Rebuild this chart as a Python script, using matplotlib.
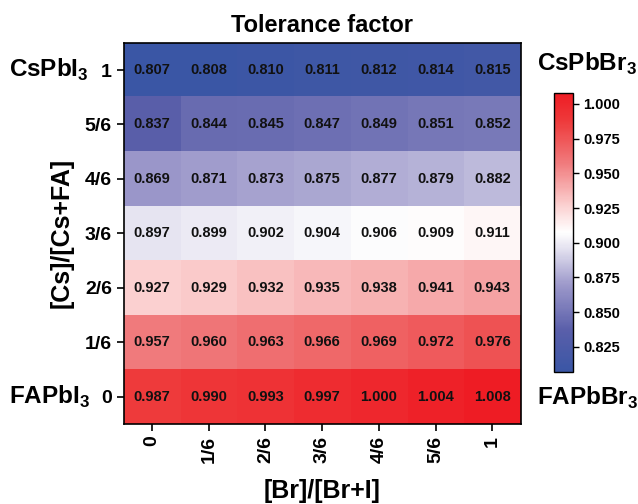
import matplotlib
matplotlib.use("Agg")
import matplotlib.pyplot as plt
import numpy as np
from matplotlib.colors import LinearSegmentedColormap

plt.rcParams['font.family'] = ['Liberation Sans', 'DejaVu Sans']
plt.rcParams['font.weight'] = 'bold'
plt.rcParams['mathtext.fontset'] = 'custom'
plt.rcParams['mathtext.rm'] = 'Liberation Sans:bold'
plt.rcParams['mathtext.bf'] = 'Liberation Sans:bold'

# [Cs]/[Cs+FA] rows, top to bottom
row_labels = ["1", "5/6", "4/6", "3/6", "2/6", "1/6", "0"]
# [Br]/[Br+I] columns
col_labels = ["0", "1/6", "2/6", "3/6", "4/6", "5/6", "1"]

tolerance = [
    [0.807, 0.808, 0.810, 0.811, 0.812, 0.814, 0.815],
    [0.837, 0.844, 0.845, 0.847, 0.849, 0.851, 0.852],
    [0.869, 0.871, 0.873, 0.875, 0.877, 0.879, 0.882],
    [0.897, 0.899, 0.902, 0.904, 0.906, 0.909, 0.911],
    [0.927, 0.929, 0.932, 0.935, 0.938, 0.941, 0.943],
    [0.957, 0.960, 0.963, 0.966, 0.969, 0.972, 0.976],
    [0.987, 0.990, 0.993, 0.997, 1.000, 1.004, 1.008],
]
cbar_ticks = [0.825, 0.850, 0.875, 0.900, 0.925, 0.950, 0.975, 1.000]

data = np.array(tolerance)
cmap = LinearSegmentedColormap.from_list("bwr_origin", [
    (0.00, "#3A56A5"), (0.15, "#5A5FAA"), (0.31, "#9C98CA"), (0.45, "#E8E6F2"),
    (0.50, "#FFFFFF"), (0.60, "#FBCFCF"), (0.75, "#F07A7C"), (0.90, "#EE3A3B"),
    (1.00, "#EE1C24")])

fig = plt.figure(figsize=(6.38, 5.04), dpi=100)
ax = fig.add_axes([0.194, 0.159, 0.622, 0.756])
im = ax.imshow(data, cmap=cmap, vmin=data.min(), vmax=data.max(), aspect='auto')

for i in range(data.shape[0]):
    for j in range(data.shape[1]):
        ax.text(j, i, f"{data[i, j]:.3f}", ha='center', va='center',
                fontsize=10.5, fontweight='bold', color='#111111')

ax.set_xticks(range(len(col_labels)))
ax.set_xticklabels(col_labels, rotation=90, fontsize=14, fontweight='bold')
ax.set_yticks(range(len(row_labels)))
ax.set_yticklabels(row_labels, fontsize=14, fontweight='bold')
ax.tick_params(length=5, width=1.2)
for s in ax.spines.values():
    s.set_linewidth(1.2)

ax.set_xlabel("[Br]/[Br+I]", fontsize=18, fontweight='bold', labelpad=12)
ax.set_ylabel("[Cs]/[Cs+FA]", fontsize=18, fontweight='bold', labelpad=8)
ax.set_title("Tolerance factor", fontsize=17, fontweight='bold', pad=8)

# corner compositions
fig.text(0.014, 0.862, r"CsPbI$_3$", fontsize=17.5, fontweight='bold', va='center')
fig.text(0.014, 0.212, r"FAPbI$_3$", fontsize=17.5, fontweight='bold', va='center')
fig.text(0.842, 0.873, r"CsPbBr$_3$", fontsize=17.5, fontweight='bold', va='center')
fig.text(0.842, 0.210, r"FAPbBr$_3$", fontsize=17.5, fontweight='bold', va='center')

cax = fig.add_axes([0.868, 0.262, 0.030, 0.554])
cb = fig.colorbar(im, cax=cax, ticks=cbar_ticks)
cb.ax.set_yticklabels([f"{t:.3f}" for t in cbar_ticks], fontsize=10.5, fontweight='bold')
cb.ax.tick_params(length=4, width=1)
cb.outline.set_linewidth(1)

plt.savefig("out.png", dpi=100)
